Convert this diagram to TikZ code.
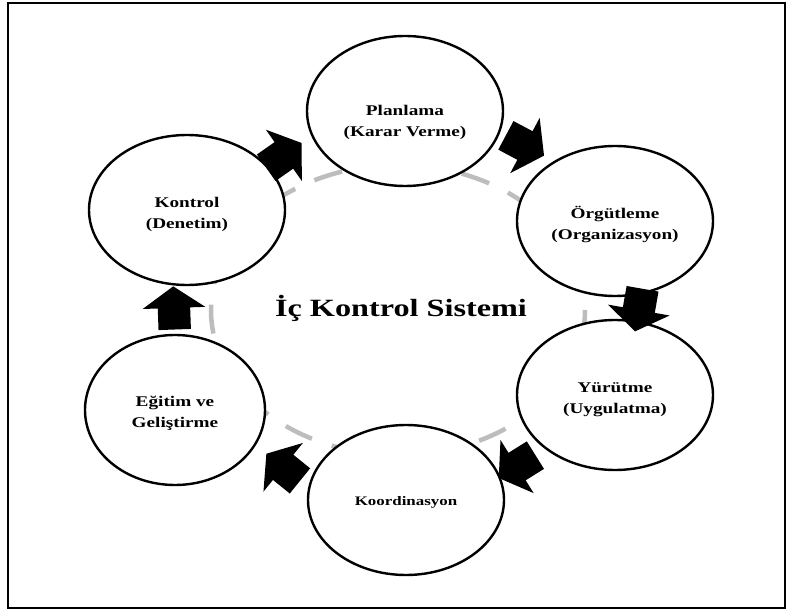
\documentclass[tikz,border=0pt]{standalone}
\usepackage{fontspec}
\setmainfont{Liberation Serif}[FakeStretch=1.3]
\usetikzlibrary{shapes.geometric}
% stage caption, set a little below the middle of its ellipse
\newcommand\stagecaption[2][4pt]{\raisebox{-#1}[\height][\depth]{%
  \begin{tabular}{@{}c@{}}#2\end{tabular}}}
\begin{document}
\begin{tikzpicture}[x=1pt,y=-1pt,
  stage/.style={ellipse, draw=black, line width=2.4pt, fill=white,
    minimum width=196pt, minimum height=150pt, inner sep=0pt,
    font=\fontsize{14.8}{20.5}\selectfont\bfseries},
  ring/.style={draw=black!26, line width=4.5pt, dash pattern=on 29pt off 21pt},
  frame/.style={draw=black, line width=1.6pt},
  title/.style={font=\fontsize{24.8}{28}\selectfont\bfseries},
  blockarrow/.pic={\fill[black, scale=1.08] (-19,-15) -- (1,-15) -- (1,-29)
    -- (21,0) -- (1,29) -- (1,15) -- (-19,15) -- cycle;}
]
% page and outer frame
\useasboundingbox (0,0) rectangle (790,612);
\fill[white] (0,0) rectangle (790,612);
\draw[frame] (8,3) rectangle (785,608);

% dashed ring behind the stages
\draw[ring] (398,310) ellipse [x radius=187, y radius=145];

% the six stages of the cycle
\node[stage] (plan) at (405,111) {\stagecaption[11pt]{Planlama\\(Karar Verme)}};
\node[stage] (org)  at (615,221) {\stagecaption{Örgütleme\\(Organizasyon)}};
\node[stage] (yur)  at (615,395) {\stagecaption{Yürütme\\(Uygulatma)}};
\node[stage, font=\fontsize{13}{18}\selectfont\bfseries] (koor) at (406,500)
  {\stagecaption[2pt]{Koordinasyon}};
\node[stage, minimum width=180pt] (egit) at (175,410) {\stagecaption[3pt]{Eğitim ve\\Geliştirme}};
\node[stage] (kont) at (187,210) {\stagecaption{Kontrol\\(Denetim)}};

% title in the middle
\node[title] (baslik) at (401,308) {İç Kontrol Sistemi};

% block arrows between neighbouring stages
\pic[rotate=35]   at (283,156) {blockarrow};
\pic[rotate=-28]  at (524,145) {blockarrow};
\pic[rotate=-100] at (639,309) {blockarrow};
\pic[rotate=-148] at (518,466) {blockarrow};
\pic[rotate=141]  at (284,468) {blockarrow};
\pic[rotate=92]   at (174,309) {blockarrow};
\end{tikzpicture}
\end{document}
